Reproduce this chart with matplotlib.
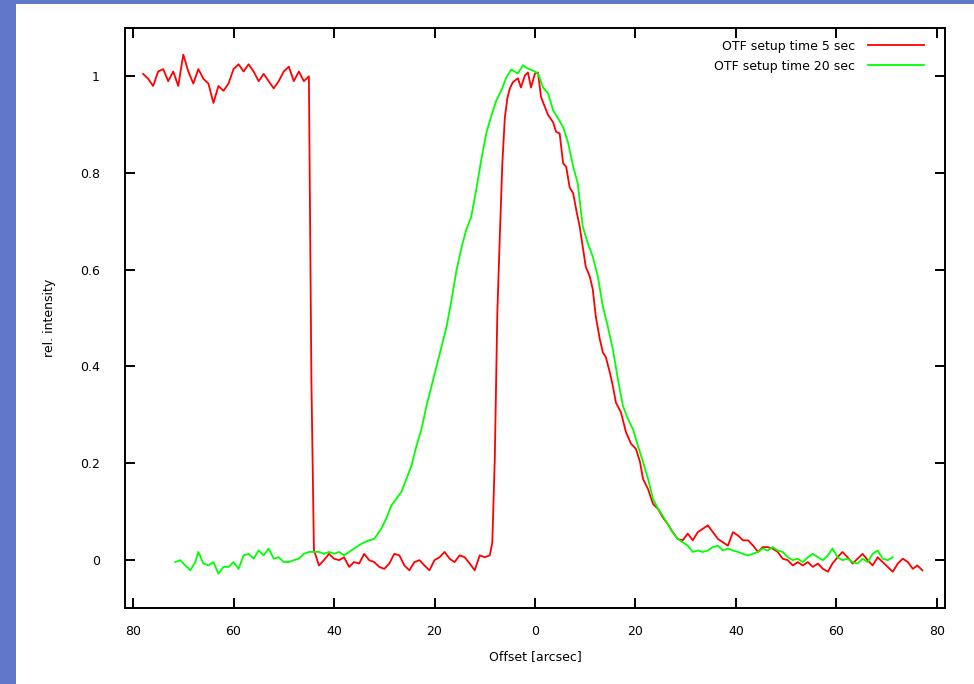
import matplotlib
matplotlib.use("Agg")
import matplotlib.pyplot as plt
from matplotlib.patches import Rectangle

# OTF setup time 5 sec (red)
red_x = [-78, -77, -76, -75, -74, -73, -72, -71, -70, -69, -68, -67, -66, -65, -64,
         -63, -62, -61, -60, -59, -58, -57, -56, -55, -54, -53, -52, -51, -50, -49,
         -48, -47, -46, -45, -44.5, -44,
         -43, -42, -41, -40, -39, -38, -37, -36, -35, -34, -33, -32, -31, -30, -29,
         -28, -27, -26, -25, -24, -23, -22, -21, -20, -19, -18, -17, -16, -15, -14,
         -13, -12, -11, -10, -9,
         -8.5, -8, -7.5, -7, -6.5, -6, -5.5, -5, -4.4, -3.4, -2.8, -2, -1.4, -0.8,
         0, 0.6, 1.2, 2, 2.6, 3.6, 4.2, 4.9, 5.6, 6.2, 6.9, 7.6, 8.2, 8.9, 9.5,
         10.1, 10.9, 11.5, 12.1, 12.9, 13.5, 14.1, 14.9, 15.5, 16.1, 17.1, 18.1,
         19.1, 20.1, 20.9, 21.5, 22.5, 23.5, 24.5,
         25.4, 26.4, 27.4, 28.4, 29.4, 30.4, 31.4, 32.4, 33.4, 34.4, 35.4, 36.4,
         37.4, 38.4, 39.4, 40.4, 41.4, 42.4, 43.4, 44.4, 45.3, 46.3, 47.3, 48.3,
         49.3, 50.3, 51.3, 52.3, 53.3, 54.3, 55.3, 56.3, 57.3, 58.3, 59.2, 60.2,
         61.2, 62.2, 63.2, 64.2, 65.2, 66.2, 67.2, 68.2, 69.2, 70.2, 71.2, 72.2,
         73.2, 74.2, 75.2, 76.1, 77.1]
red_y = [1.005, 0.995, 0.98, 1.01, 1.015, 0.99, 1.01, 0.98, 1.045, 1.01, 0.985, 1.015,
         0.995, 0.985, 0.945, 0.98, 0.97, 0.985, 1.015, 1.025, 1.01, 1.025, 1.01, 0.99,
         1.005, 0.99, 0.975, 0.99, 1.01, 1.02, 0.99, 1.01, 0.99, 1.0, 0.37, 0.02,
         -0.012, -0.001, 0.012, 0.002, -0.001, 0.005, -0.015, -0.005, -0.008, 0.012,
         -0.001, -0.005, -0.015, -0.019, -0.008, 0.012, 0.009, -0.012, -0.022, -0.005,
         -0.001, -0.012, -0.022, -0.001, 0.005, 0.016, 0.002, -0.005, 0.009, 0.005,
         -0.008, -0.022, 0.009, 0.005, 0.009,
         0.035, 0.21, 0.51, 0.67, 0.82, 0.915, 0.955, 0.975, 0.988, 0.996, 0.977,
         1.002, 1.008, 0.977, 1.006, 1.008, 0.957, 0.936, 0.92, 0.905, 0.885, 0.882,
         0.82, 0.813, 0.77, 0.758, 0.724, 0.689, 0.648, 0.606, 0.586, 0.559, 0.503,
         0.456, 0.429, 0.419, 0.387, 0.359, 0.325, 0.305, 0.264, 0.24, 0.229, 0.202,
         0.167, 0.146, 0.115, 0.105,
         0.088, 0.074, 0.057, 0.043, 0.04, 0.054, 0.04, 0.057, 0.064, 0.071, 0.057,
         0.043, 0.036, 0.029, 0.057, 0.05, 0.04, 0.04, 0.029, 0.016, 0.026, 0.026,
         0.023, 0.016, 0.002, -0.001, -0.012, -0.005, -0.012, -0.005, -0.015, -0.008,
         -0.019, -0.025, -0.008, 0.005, 0.016, 0.005, -0.008, 0.002, 0.012, -0.001,
         -0.012, 0.005, -0.005, -0.015, -0.025, -0.008, 0.002, -0.005, -0.019, -0.012,
         -0.022]

# OTF setup time 20 sec (green)
green_x = [-71.6, -70.6, -69.6, -68.6, -67.6, -67, -66, -65, -64, -63, -62, -61, -60,
           -59, -58, -57, -56, -55, -54, -53, -52, -51, -50, -49, -48, -47, -46, -45,
           -44, -43, -42, -41, -40, -39, -38, -37, -36, -35, -34, -33, -32,
           -30.6, -29.6, -28.6, -27.6, -26.6, -25.6, -24.6, -23.6, -22.6, -21.6, -20.6,
           -19.6, -18.6, -17.6, -16.6, -15.6, -14.6, -13.7, -12.7, -11.7, -10.7, -9.7,
           -8.7, -7.7, -6.7, -5.7, -4.7, -3.4, -2.4, -1.4, -0.4, 0.6, 1.6, 2.6, 3.6,
           4.6, 5.6, 6.6, 7.6, 8.5, 9.5, 10.5, 11.5, 12.5, 13.5, 14.5, 15.5, 16.5,
           17.5, 18.5, 19.5, 20.5, 21.5, 22.5, 23.5, 24.5, 25.4, 26.4, 27.4, 28.4,
           29.4, 30.4, 31.4, 32.4, 33.4, 34.4, 35.4, 36.4, 37.4, 38.4, 39.4, 40.4,
           41.4, 42.4, 43.4, 44.4, 45.3, 46.3, 47.3, 48.3, 49.3, 50.3, 51.3, 52.3,
           53.3, 54.3, 55.3, 56.3, 57.3, 58.3, 59.2, 60.2, 61.2, 62.2, 63.2, 64.2,
           65.2, 66.2, 67.2, 68.2, 69.2, 70.2, 71.2]
green_y = [-0.005, -0.001, -0.012, -0.022, -0.005, 0.016, -0.008, -0.012, -0.005, -0.029,
           -0.015, -0.015, -0.005, -0.019, 0.009, 0.012, 0.002, 0.019, 0.009, 0.023,
           0.002, 0.005, -0.005, -0.005, -0.001, 0.002, 0.012, 0.016, 0.016, 0.016,
           0.012, 0.016, 0.012, 0.016, 0.009, 0.016, 0.023, 0.03, 0.036, 0.04, 0.043,
           0.064, 0.085, 0.112, 0.126, 0.14, 0.167, 0.194, 0.235, 0.27, 0.318, 0.359,
           0.4, 0.441, 0.482, 0.538, 0.6, 0.647, 0.682, 0.709, 0.765, 0.827, 0.882,
           0.918, 0.95, 0.971, 0.998, 1.014, 1.006, 1.023, 1.016, 1.012, 1.006, 0.977,
           0.965, 0.93, 0.913, 0.895, 0.862, 0.813, 0.779, 0.689, 0.655, 0.627, 0.586,
           0.524, 0.482, 0.435, 0.373, 0.318, 0.291, 0.27, 0.235, 0.202, 0.167, 0.125,
           0.105, 0.091, 0.074, 0.057, 0.043, 0.036, 0.029, 0.016, 0.019, 0.016, 0.019,
           0.026, 0.029, 0.019, 0.023, 0.019, 0.016, 0.012, 0.009, 0.012, 0.016, 0.023,
           0.019, 0.026, 0.019, 0.016, 0.005, -0.001, 0.002, -0.005, 0.005, 0.012,
           0.005, -0.001, 0.009, 0.023, 0.005, -0.001, 0.002, -0.005, -0.008, 0.002,
           -0.005, 0.012, 0.019, 0.002, -0.001, 0.005]

x_ticks = [-80, -60, -40, -20, 0, 20, 40, 60, 80]
x_tick_labels = ["80", "60", "40", "20", "0", "20", "40", "60", "80"]
y_ticks = [0, 0.2, 0.4, 0.6, 0.8, 1]
y_tick_labels = ["0", "0.2", "0.4", "0.6", "0.8", "1"]

fig = plt.figure(figsize=(9.74, 6.84), dpi=100, facecolor="#6177c9")
# white slide area behind the plot
fig.patches.append(Rectangle((16 / 974, 0), 1, 1 - 4 / 684, transform=fig.transFigure,
                             facecolor="white", edgecolor="none", zorder=-10))

ax = fig.add_axes([125 / 974, 1 - 608 / 684, 820 / 974, 580 / 684])
ax.set_facecolor("none")
ax.plot(red_x, red_y, color="#ff0000", lw=1.3, label="OTF setup time 5 sec")
ax.plot(green_x, green_y, color="#00ff00", lw=1.3, label="OTF setup time 20 sec")

ax.set_xlim(-81.6, 81.6)
ax.set_ylim(-0.1, 1.1)
ax.set_xticks(x_ticks)
ax.set_xticklabels(x_tick_labels)
ax.set_yticks(y_ticks)
ax.set_yticklabels(y_tick_labels)
ax.tick_params(direction="in", length=7, width=1.4, top=True, right=True,
               labelsize=9)
ax.tick_params(axis="x", pad=12)
ax.tick_params(axis="y", pad=18)
for s in ax.spines.values():
    s.set_linewidth(1.4)

ax.set_xlabel("Offset [arcsec]", fontsize=9, labelpad=9)
ax.set_ylabel("rel. intensity", fontsize=9, labelpad=17)

ax.legend(loc="upper right", frameon=False, markerfirst=False, fontsize=9,
          handlelength=4.5, handletextpad=1.0, labelspacing=0.55,
          borderaxespad=0.3, bbox_to_anchor=(0.985, 0.995))

fig.savefig("out.png", dpi=100, facecolor=fig.get_facecolor())
